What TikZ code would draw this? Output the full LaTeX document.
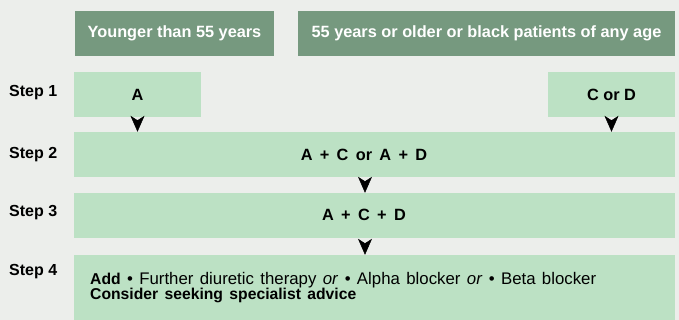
\documentclass[tikz,border=0pt]{standalone}
\usepackage{fontspec}
\setmainfont{Liberation Sans}
\usetikzlibrary{arrows.meta}
\definecolor{bgcol}{HTML}{ECEEEB}
\definecolor{headcol}{HTML}{76997F}
\definecolor{boxcol}{HTML}{BCE1C4}
\newcommand\boxfont{\fontsize{16.3}{19}\selectfont\bfseries\spaceskip 0.45em\relax}
\newcommand\bodyfont{\fontsize{16.8}{19}\selectfont\spaceskip 0.38em\relax}
\newcommand\boldbody[1]{{\fontsize{15.7}{19}\selectfont\bfseries #1}}
\begin{document}
\begin{tikzpicture}[x=1pt, y=-1pt,
    every node/.style={inner sep=0pt},
    head/.style={fill=headcol, text=white, font=\fontsize{16.3}{19}\selectfont\bfseries, minimum height=45pt},
    stepbox/.style={fill=boxcol, minimum height=45pt, font=\fontsize{16.3}{19}\selectfont\bfseries},
    boxtext/.style={font=\boxfont},
    bodytext/.style={anchor=base west, font=\bodyfont},
    steplabel/.style={anchor=west, font=\fontsize{16}{19}\selectfont\bfseries},
    arr/.style={-{Stealth[length=16pt, width=14pt, inset=4.5pt]}, line width=0.5pt, shorten <=5pt}]
  \fill[bgcol] (0,0) rectangle (679,320);
  \useasboundingbox (0,0) rectangle (679,320);
  \node[head, minimum width=199pt] (young) at (174.5,33.5) {Younger than 55 years};
  \node[head, minimum width=377pt] (old) at (486.5,33.5) {55 years or older or black patients of any age};
  \node[stepbox, minimum width=127pt] (a) at (137.5,94.5) {A};
  \node[stepbox, minimum width=127pt] (cd) at (611.5,94.5) {C or D};
  \node[stepbox, minimum width=601pt] (s2) at (374.5,154.5) {};
  \node[stepbox, minimum width=601pt] (s3) at (374.5,215.5) {};
  \node[stepbox, minimum width=601pt, minimum height=65pt] (s4) at (374.5,287.5) {};
  \coordinate (mid) at (365,0);
  \node[boxtext] (s2text) at (364,155) {A + C or A + D};
  \node[boxtext] (s3text) at (364,215) {A + C + D};
  \node[bodytext] (add) at (90,284)
    {\boldbody{Add} \textbullet{} Further diuretic therapy \textit{or} \textbullet{} Alpha blocker \textit{or} \textbullet{} Beta blocker};
  \node[bodytext] (consider) at (90,299) {\boldbody{Consider seeking specialist advice}};
  \node[steplabel] (l1) at (9,93) {Step 1};
  \node[steplabel] (l2) at (9,155) {Step 2};
  \node[steplabel] (l3) at (9,213) {Step 3};
  \node[steplabel] (l4) at (9,272) {Step 4};
  \draw[arr] (a.south) -- (a.south |- s2.north);
  \draw[arr] (cd.south) -- (cd.south |- s2.north);
  \draw[arr] (s2.south -| mid) -- (s3.north -| mid);
  \draw[arr] (s3.south -| mid) -- (s4.north -| mid);
\end{tikzpicture}
\end{document}
